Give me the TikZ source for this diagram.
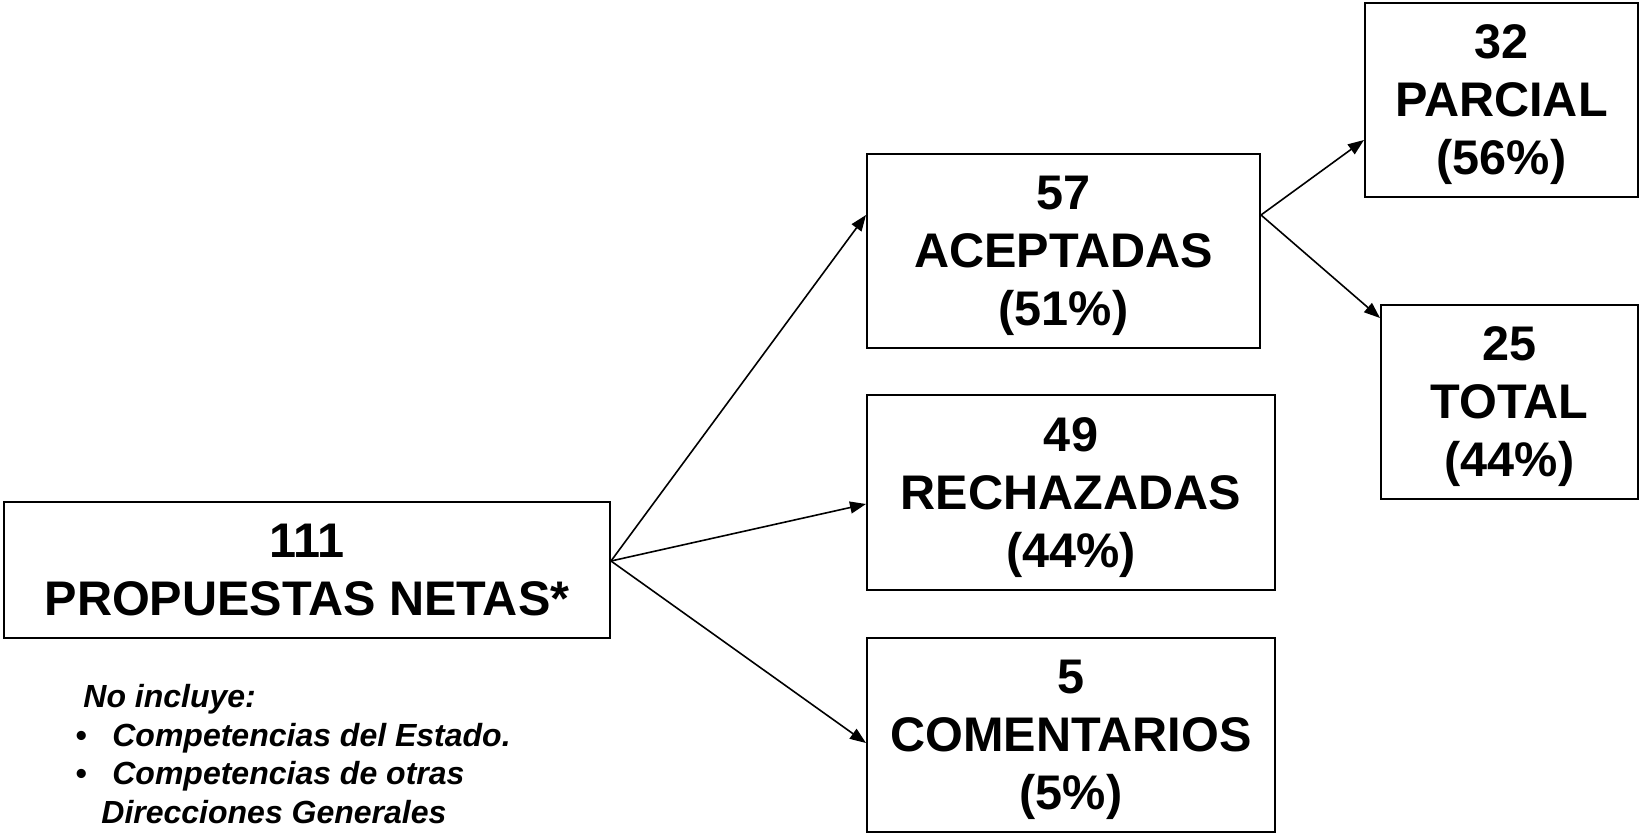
\documentclass[tikz,border=0pt]{standalone}
\usepackage{fontspec}
\setmainfont{Liberation Sans}
\usetikzlibrary{arrows.meta}
\begin{document}
\begin{tikzpicture}[x=0.5pt,y=-0.5pt,
  box/.style={draw, line width=1pt, inner sep=0pt, align=center,
    font=\fontsize{24.3}{29}\selectfont\bfseries},
  conn/.style={line width=0.8pt, -{Triangle[length=8pt,width=6pt]}},
  notetext/.style={anchor=base west, align=left, inner sep=0pt,
    font=\fontsize{16}{19.25}\selectfont\bfseries\itshape}]
\useasboundingbox (0,0) rectangle (1639,834);
\node[box, minimum width=303pt, minimum height=68pt] (main) at (307,570)
  {111\\\smash{PROPUESTAS NETAS*}};
\node[box, minimum width=196.5pt, minimum height=97pt] (acc) at (1063.5,251)
  {57\\ACEPTADAS\\\smash{(51\%)}};
\node[box, minimum width=204pt, minimum height=97.5pt] (rech) at (1071,492.5)
  {49\\RECHAZADAS\\\smash{(44\%)}};
\node[box, minimum width=204pt, minimum height=97pt] (com) at (1071,735)
  {5\\COMENTARIOS\\\smash{(5\%)}};
\node[box, minimum width=136.5pt, minimum height=97pt] (parc) at (1501.5,100)
  {32\\PARCIAL\\\smash{(56\%)}};
\node[box, minimum width=128.5pt, minimum height=97pt] (tot) at (1509.5,402)
  {25\\TOTAL\\\smash{(44\%)}};
\draw[conn] ([yshift=4.5pt]main.east) -- ([yshift=18pt]acc.west);
\draw[conn] ([yshift=4.5pt]main.east) -- ([yshift=-5.75pt]rech.west);
\draw[conn] ([yshift=4.5pt]main.east) -- ([yshift=-4pt]com.west);
\draw[conn] ([yshift=18pt]acc.east) -- ([yshift=-20pt]parc.west);
\draw[conn] ([yshift=18pt]acc.east) -- ([yshift=42pt]tot.west);
\node[notetext] (note) at (75,823)
  {\hspace*{4pt}No incluye:\\
   \makebox[18.5pt][l]{•}Competencias del Estado.\\
   \makebox[18.5pt][l]{•}Competencias de otras\\
   \hspace*{13pt}Direcciones Generales};
\end{tikzpicture}
\end{document}
